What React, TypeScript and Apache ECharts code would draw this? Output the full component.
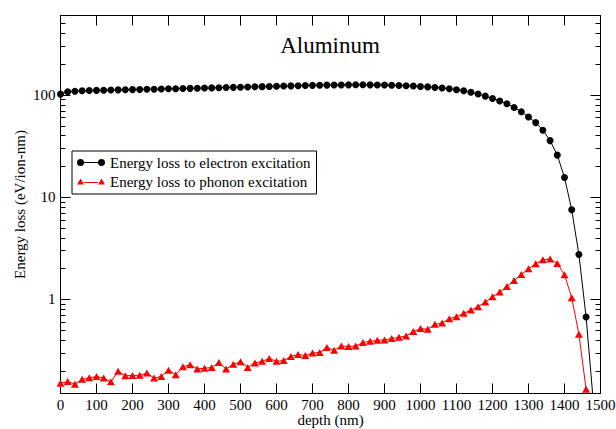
import React, { useEffect, useRef } from "react";
import * as echarts from "echarts";

const depthNm = [
  0, 20, 40, 60, 80, 100, 120, 140, 160, 180, 200, 220, 240, 260, 280, 300, 320, 340, 360, 380,
  400, 420, 440, 460, 480, 500, 520, 540, 560, 580, 600, 620, 640, 660, 680, 700, 720, 740, 760, 780,
  800, 820, 840, 860, 880, 900, 920, 940, 960, 980, 1000, 1020, 1040, 1060, 1080, 1100, 1120, 1140, 1160, 1180,
  1200, 1220, 1240, 1260, 1280, 1300, 1320, 1340, 1360, 1380, 1400, 1420, 1440, 1460, 1480,
];

const electronLoss = [
  102, 107.5, 109, 110, 110.5, 111, 111.5, 112, 112.3, 112.6, 113, 113.3, 113.7, 114, 114.5, 115, 115.4, 115.8, 116.2, 116.6,
  117, 117.4, 117.8, 118.3, 118.8, 119.3, 119.8, 120.3, 120.8, 121.3, 121.8, 122.3, 122.8, 123.3, 123.8, 124.3, 124.7, 125, 125.3, 125.5,
  125.7, 125.8, 125.8, 125.7, 125.5, 125.1, 124.6, 124, 123.2, 122.3, 121.3, 120.1, 118.7, 117, 115, 112.7, 110, 106.5, 102.5, 97.5,
  92.5, 87.5, 82, 75.5, 68.5, 61, 53.7, 45.3, 35.8, 25.8, 15.6, 7.55, 2.75, 0.673, 0.1,
];

const phononLoss = [
  0.151, 0.157, 0.148, 0.165, 0.171, 0.176, 0.17, 0.156, 0.198, 0.179, 0.18, 0.181, 0.19, 0.17, 0.176, 0.203, 0.183, 0.219, 0.229, 0.209,
  0.212, 0.216, 0.241, 0.208, 0.232, 0.245, 0.216, 0.239, 0.248, 0.264, 0.248, 0.252, 0.276, 0.289, 0.282, 0.299, 0.302, 0.338, 0.318, 0.35,
  0.347, 0.35, 0.378, 0.389, 0.398, 0.401, 0.414, 0.426, 0.438, 0.484, 0.518, 0.51, 0.57, 0.587, 0.648, 0.678, 0.73, 0.787, 0.848, 0.941,
  1.06, 1.18, 1.34, 1.53, 1.75, 1.99, 2.23, 2.44, 2.49, 2.24, 1.74, 1.04, 0.456, 0.132,
];

const seriesNames = ["Energy loss to electron excitation", "Energy loss to phonon excitation"];
const yMajorTicks = [1, 10, 100];
const yMinorTicks = [
  0.2, 0.3, 0.4, 0.5, 0.6, 0.7, 0.8, 0.9,
  2, 3, 4, 5, 6, 7, 8, 9,
  20, 30, 40, 50, 60, 70, 80, 90,
  200, 300, 400, 500,
];
const yRange = [0.12, 600];
const xRange = [0, 1500];
const xStep = 100;

const FONT = '"Liberation Serif", "Times New Roman", serif';

export default function App() {
  const ref = useRef<HTMLDivElement>(null);

  useEffect(() => {
    document.body.style.margin = "0";
    if (!ref.current) return;
    const chart = echarts.init(ref.current, null, { renderer: "svg" });

    const lg = (v: number) => Math.log10(v);
    const yMin = lg(yRange[0]);
    const yMax = lg(yRange[1]);

    const toData = (vals: number[]) =>
      vals.map((v, i) => [depthNm[i], lg(v)]);

    const yBase = (position: string) => ({
      type: "value",
      position,
      min: yMin,
      max: yMax,
      splitLine: { show: false },
      axisLine: { show: false },
    });

    const majorY = (position: string, labels: boolean) => ({
      ...yBase(position),
      axisLine: { show: true, lineStyle: { color: "#000", width: 1 } },
      axisTick: {
        show: true,
        inside: true,
        length: 10,
        customValues: yMajorTicks.map(lg),
        lineStyle: { color: "#000", width: 1 },
      },
      axisLabel: labels
        ? {
            show: true,
            customValues: yMajorTicks.map(lg),
            formatter: (v: number) => String(Math.round(Math.pow(10, v))),
            margin: 5,
            color: "#000",
            fontFamily: FONT,
            fontSize: 15,
          }
        : { show: false },
    });

    const minorY = (position: string) => ({
      ...yBase(position),
      axisTick: {
        show: true,
        inside: true,
        length: 5,
        customValues: yMinorTicks.map(lg),
        lineStyle: { color: "#000", width: 1 },
      },
      axisLabel: { show: false },
    });

    const iconCircle =
      "path://M0,3.5A3.5,3.5 0 1,0 7,3.5A3.5,3.5 0 1,0 0,3.5Z" +
      "M21,3.5A3.5,3.5 0 1,0 28,3.5A3.5,3.5 0 1,0 21,3.5Z" +
      "M7,3L21,3L21,4L7,4Z";
    const iconTriangle =
      "path://M0,7L3.5,1L7,7Z M21,7L24.5,1L28,7Z M7,4.5L21,4.5L21,5.5L7,5.5Z";

    chart.setOption({
      animation: false,
      backgroundColor: "#fff",
      grid: {
        left: 60.5,
        top: 15.5,
        width: 540,
        height: 378,
        containLabel: false,
        outerBoundsMode: "none",
      },
      graphic: [
        {
          type: "text",
          x: 330,
          y: 45.5,
          style: {
            text: "Aluminum",
            fill: "#000",
            font: `23px ${FONT}`,
            textAlign: "center",
            textVerticalAlign: "middle",
          },
        },
      ],
      legend: {
        orient: "vertical",
        left: 72,
        top: 151,
        padding: [4, 6, 5, 5],
        itemGap: 4,
        itemWidth: 28,
        itemHeight: 7,
        backgroundColor: "#fff",
        borderColor: "#000",
        borderWidth: 1,
        borderRadius: 0,
        selectedMode: false,
        itemStyle: { borderWidth: 0 },
        textStyle: { fontFamily: FONT, fontSize: 15, color: "#000" },
        data: [
          { name: seriesNames[0], icon: iconCircle },
          { name: seriesNames[1], icon: iconTriangle },
        ],
      },
      xAxis: [
        {
          type: "value",
          position: "bottom",
          min: xRange[0],
          max: xRange[1],
          interval: xStep,
          splitLine: { show: false },
          axisLine: { show: true, onZero: false, lineStyle: { color: "#000", width: 1 } },
          axisTick: { show: true, inside: true, length: 10, lineStyle: { color: "#000", width: 1 } },
          axisLabel: {
            margin: 4,
            color: "#000",
            fontFamily: FONT,
            fontSize: 15,
            formatter: (v: number) => String(v),
          },
          name: "depth (nm)",
          nameLocation: "middle",
          nameGap: 19,
          nameMoveOverlap: false,
          nameTextStyle: { color: "#000", fontFamily: FONT, fontSize: 15 },
        },
        {
          type: "value",
          position: "top",
          min: xRange[0],
          max: xRange[1],
          interval: xStep,
          splitLine: { show: false },
          axisLine: { show: true, onZero: false, lineStyle: { color: "#000", width: 1 } },
          axisTick: { show: true, inside: true, length: 10, lineStyle: { color: "#000", width: 1 } },
          axisLabel: { show: false },
        },
      ],
      yAxis: [
        {
          ...majorY("left", true),
          name: "Energy loss (eV/ion-nm)",
          nameLocation: "middle",
          nameGap: 33,
          nameRotate: 90,
          nameMoveOverlap: false,
          nameTextStyle: { color: "#000", fontFamily: FONT, fontSize: 15 },
        },
        minorY("left"),
        majorY("right", false),
        minorY("right"),
      ],
      series: [
        {
          name: seriesNames[0],
          type: "line",
          xAxisIndex: 0,
          yAxisIndex: 0,
          data: toData(electronLoss),
          symbol: "circle",
          symbolSize: 7,
          showAllSymbol: true,
          clip: true,
          itemStyle: { color: "#000", borderWidth: 0 },
          lineStyle: { color: "#000", width: 1 },
        },
        {
          name: seriesNames[1],
          type: "line",
          xAxisIndex: 0,
          yAxisIndex: 0,
          data: toData(phononLoss),
          symbol: "triangle",
          symbolSize: [8, 7],
          showAllSymbol: true,
          clip: true,
          itemStyle: { color: "#ff0000", borderWidth: 0 },
          lineStyle: { color: "#ff0000", width: 1 },
        },
      ],
    });

    return () => {
      chart.dispose();
    };
  }, []);

  return <div ref={ref} style={{ width: 616, height: 429 }} />;
}
